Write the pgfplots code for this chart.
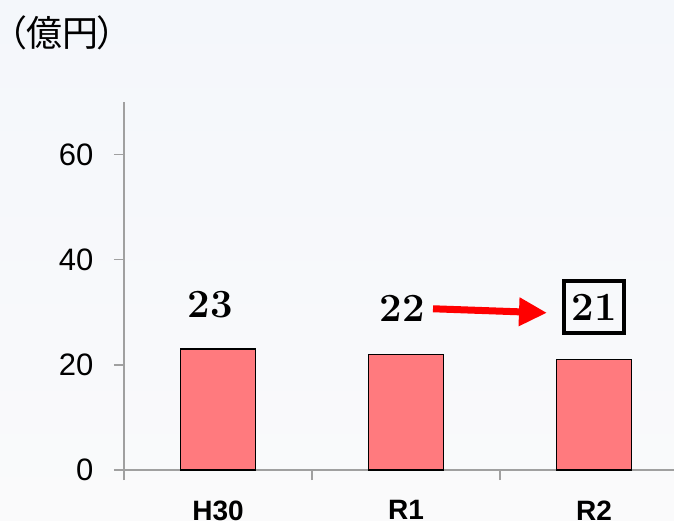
\documentclass[border=0pt]{standalone}
\usepackage{fontspec}
\usepackage{pgfplots}
\pgfplotsset{compat=1.18}
\usetikzlibrary{arrows.meta}
\newfontfamily\arial{Liberation Sans}
\newfontfamily\cjk[RawFeature=+palt]{Noto Sans CJK JP}
\definecolor{barred}{RGB}{255,122,126}
\definecolor{axgray}{RGB}{160,160,160}
\definecolor{bgtop}{RGB}{244,247,251}
\definecolor{bgbot}{RGB}{250,250,251}
\begin{document}
\begin{tikzpicture}[x=1pt,y=1pt]
\shade[top color=bgtop,bottom color=bgbot] (0,0) rectangle (674,520);
\path[use as bounding box] (0,0) rectangle (674,520);
\node[anchor=west,inner sep=0pt,font=\cjk\fontsize{36}{36}\selectfont] at (8,487) {（億円）};
\begin{axis}[
  at={(124pt,50pt)}, anchor=south west,
  scale only axis, width=550pt, height=368pt,
  xmin=-0.5, xmax=2.4255, ymin=0, ymax=70,
  axis x line*=bottom, axis y line*=left,
  axis line style={axgray, line width=1.5pt, -},
  tick align=outside, major tick length=10pt,
  tick style={axgray, line width=1.5pt},
  ytick={0,20,40,60},
  xtick={-0.5,0.5,1.5}, xticklabels={,,},
  extra x ticks={0,1,2}, extra x tick labels={H30,R1,R2},
  extra x tick style={grid=none, major tick length=0pt,
    xticklabel style={font=\arial\bfseries\fontsize{28}{28}\selectfont, yshift=-27pt}},
  /pgf/number format/assume math mode=true,
  ticklabel style={font=\arial\fontsize{31}{31}\selectfont},
  yticklabel style={xshift=-17pt},
  clip=false,
]
\addplot[ybar, bar width=75pt, fill=barred, draw=black, line width=1.5pt]
  coordinates {(0,23) (1,22) (2,21)};
\node[font=\bfseries\fontsize{40}{40}\selectfont] at (axis cs:-0.04,31.4) {23};
\node[font=\bfseries\fontsize{40}{40}\selectfont] at (axis cs:0.98,30.7) {22};
\node[font=\bfseries\fontsize{40}{40}\selectfont, draw=black, line width=3.5pt,
  minimum width=60pt, minimum height=52pt, inner sep=0pt] at (axis cs:2,31) {21};
\draw[red, line width=7pt, -{Triangle[length=28pt,width=27pt]}]
  (axis cs:1.1436,30.67) -- (axis cs:1.75,29.9);
\end{axis}
\end{tikzpicture}
\end{document}
